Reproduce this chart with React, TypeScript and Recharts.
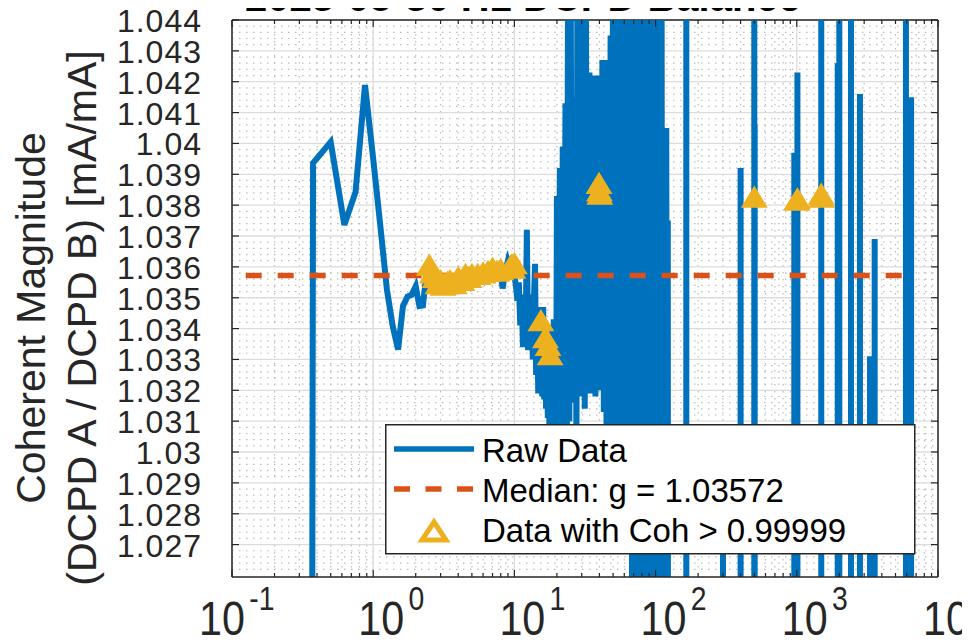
import React from "react";
import {
  ComposedChart,
  Line,
  Scatter,
  XAxis,
  YAxis,
  CartesianGrid,
  ReferenceLine,
  Legend,
} from "recharts";

// frequency [Hz], coherent magnitude ratio
const lowBand: [number, number][] = [
  [0.125, 0.6], [0.25, 0.6], [0.375, 1.03936], [0.5, 1.04005], [0.625, 1.03736],
  [0.75, 1.03843], [0.875, 1.04189], [1.0, 1.0395], [1.125, 1.0373], [1.25, 1.03527],
  [1.375, 1.03408], [1.5, 1.03332], [1.625, 1.03473], [1.75, 1.03504], [1.875, 1.0351],
  [2.0, 1.03537], [2.125, 1.03473], [2.25, 1.03475], [2.375, 1.0357], [2.5, 1.0359],
  [2.75, 1.0355], [3.0, 1.0353], [3.25, 1.0355], [3.5, 1.0356], [3.75, 1.0354],
  [4.0, 1.0356], [4.5, 1.0357], [5.0, 1.0358], [5.5, 1.0357], [6.0, 1.0358],
  [6.5, 1.0357], [7.0, 1.0359], [7.5, 1.0357], [8.0, 1.0358], [8.25, 1.0353],
  [8.5, 1.0357], [9.0, 1.0362], [9.5, 1.0359], [10.0, 1.0357],
];

const midBand: [number, number][] = [
  [10.25, 1.0354], [10.5, 1.0349], [10.75, 1.0355], [11.0, 1.0341], [11.25, 1.0351],
  [11.5, 1.0334], [11.75, 1.0346], [12.0, 1.0336], [12.25, 1.0372], [12.5, 1.0333],
  [12.75, 1.0348], [13.0, 1.0337], [13.25, 1.0351], [13.5, 1.033], [13.75, 1.0349],
  [14.0, 1.0361], [14.25, 1.0325], [14.5, 1.0346], [14.75, 1.0319], [15.0, 1.0347],
  [15.25, 1.0322], [15.5, 1.0343], [15.75, 1.0318], [16.0, 1.0347], [16.25, 1.0317],
  [16.5, 1.034], [16.75, 1.0314], [17.0, 1.0337], [17.25, 1.0311], [17.5, 1.0336],
  [17.75, 1.03], [18.0, 1.0336], [18.25, 1.029], [18.5, 1.0341], [18.75, 1.0302],
  [19.0, 1.0343], [19.25, 1.0285], [19.5, 1.0338], [19.75, 1.0305],
];

const denseBand: [number, number][] = [
  [20, 1.0383], [20.5, 1.0318], [21, 1.0392], [21.5, 1.0302], [22, 1.0399],
  [22.5, 1.0322], [23, 1.0413], [23.5, 1.0288], [24, 1.0462], [24.5, 1.031],
  [25, 1.047], [25.5, 1.0326], [26, 1.0415], [26.5, 1.0316], [27, 1.0414],
  [27.5, 1.0298], [28, 1.048], [28.5, 1.0323], [29, 1.047], [29.5, 1.0318],
  [30, 1.0475], [30.5, 1.0321], [31, 1.049], [31.5, 1.0314], [32, 1.049],
  [32.5, 1.0322], [33, 1.0423], [33.5, 1.032], [34, 1.0423], [34.5, 1.0319],
  [35, 1.0422], [35.5, 1.0325], [36, 1.0417], [36.5, 1.0322], [37, 1.0417],
  [37.5, 1.0318], [38, 1.0422], [38.5, 1.0325], [39, 1.0422], [39.5, 1.032],
  [40, 1.0422], [41, 1.0322], [42, 1.0427], [43, 1.0313], [44, 1.0427],
  [45, 1.03], [46, 1.0427], [47, 1.029], [48, 1.0435], [49, 1.0285],
  [50, 1.047], [51, 1.0288], [52, 1.048], [53, 1.0282], [54, 1.0475],
  [55, 1.0286], [56, 1.048], [57, 1.028], [58, 1.0475], [59, 1.0284],
  [60, 1.0428], [61, 1.027], [62, 1.0428], [63, 1.028], [64, 1.049],
  [65.5, 1.027], [67, 1.05], [68.5, 1.015], [70, 1.05], [71.5, 1.015],
  [73, 1.05], [74.5, 1.015], [76, 1.05], [78, 1.015], [80, 1.05],
  [82, 1.015], [84, 1.05], [86, 1.015], [88, 1.05], [90, 1.015],
  [92, 1.05], [94, 1.015], [96, 1.05], [98, 1.015], [100, 1.05],
  [102.5, 1.015], [105, 1.05], [107.5, 1.015], [110, 1.05], [112, 1.015],
  [114, 1.0405], [116, 1.015], [119, 1.0405], [121, 1.015], [122, 1.0375],
  [124, 0.95],
];

const spikeBand: [number, number][] = [
  [164.875, 0.95], [165, 1.07], [165.125, 0.95],
  [299.875, 0.95], [300, 1.0295], [300.125, 0.95],
  [399.875, 0.95], [400, 1.0392], [400.125, 0.95],
  [499.875, 0.95], [500, 1.07], [500.125, 0.95],
  [502.875, 0.95], [503, 1.0406], [503.125, 0.95],
  [959.875, 0.95], [960, 1.0397], [960.125, 0.95],
  [1009.875, 0.95], [1010, 1.0423], [1010.125, 0.95],
  [1489.875, 0.95], [1490, 1.07], [1490.125, 0.95],
  [1949.875, 0.95], [1950, 1.0426], [1950.125, 0.95],
  [1999.875, 0.95], [2000, 1.07], [2000.125, 0.95],
  [2419.875, 0.95], [2420, 1.07], [2420.125, 0.95],
  [2799.875, 0.95], [2800, 1.0416], [2800.125, 0.95],
  [3299.875, 0.95], [3300, 1.0331], [3300.125, 0.95],
  [3559.875, 0.95], [3560, 1.0369], [3560.125, 0.95],
  [5929.875, 0.95], [5930, 1.07], [5930.125, 0.95],
  [6449.875, 0.95], [6450, 1.0415], [6450.125, 0.95],
  [6600, 0.95],
];

// points with coherence > 0.99999
const cohPoints: [number, number][] = [
  [2.5, 1.036], [2.625, 1.03575], [2.75, 1.0356], [2.875, 1.0354], [3.0, 1.0355],
  [3.125, 1.03535], [3.25, 1.0354], [3.375, 1.03545], [3.5, 1.0355], [3.75, 1.0354],
  [4.0, 1.0356], [4.25, 1.0355], [4.5, 1.0357], [4.75, 1.0356], [5.0, 1.0357],
  [5.5, 1.0357], [6.0, 1.03575], [6.5, 1.0358], [7.0, 1.0359], [7.5, 1.0358],
  [8.0, 1.03585], [9.5, 1.036], [9.75, 1.0359], [10.0, 1.03605],
  [15.4, 1.0342], [16.6, 1.03365], [17.3, 1.0334], [17.9, 1.0331],
  [39.75, 1.03865], [40.0, 1.0384], [40.25, 1.0383],
  [500, 1.0382], [1000, 1.0381], [1010, 1.03815], [1490, 1.0383], [1500, 1.0382],
];

const medianFreq = [0.125, 6600];
const medianValue = 1.03572;

const xMajorTicks = [0.1, 1, 10, 100, 1000, 10000];
const yTicks = [
  1.027, 1.028, 1.029, 1.03, 1.031, 1.032, 1.033, 1.034, 1.035,
  1.036, 1.037, 1.038, 1.039, 1.04, 1.041, 1.042, 1.043, 1.044,
];

const rawData = [...lowBand, ...midBand, ...denseBand, ...spikeBand].map(([f, v]) => ({ f, v }));
const cohData = cohPoints.map(([f, v]) => ({ f, v }));
const medianData = medianFreq.map((f) => ({ f, v: medianValue }));

// minor grid positions (2..9 per decade, 0.0002 steps)
const xMinorTicks: number[] = [];
xMajorTicks.slice(0, -1).forEach((d) => {
  for (let k = 2; k <= 9; k++) xMinorTicks.push(Number((d * k).toPrecision(3)));
});
const yMinorTicks: number[] = [];
for (let i = 0; i <= 90; i++) {
  if (i % 5 !== 0) yMinorTicks.push(Number((1.026 + i * 0.0002).toFixed(4)));
}

const BLUE = "#0072BD";
const ORANGE = "#D95319";
const GOLD = "#EDB120";
const AXIS = "#262626";
const FONT = "'Liberation Sans', Arial, Helvetica, sans-serif";

const LEFT = 232;
const RIGHT = 938;
const TOP = 20;
const BOTTOM = 577;

const YTick = (props: any) => {
  const { y, payload } = props;
  return (
    <g>
      <line x1={LEFT} x2={LEFT + 7} y1={y} y2={y} stroke={AXIS} strokeWidth={1.2} />
      <line x1={RIGHT - 7} x2={RIGHT} y1={y} y2={y} stroke={AXIS} strokeWidth={1.2} />
      <text
        x={202}
        y={y}
        dy={12}
        textAnchor="end"
        fontSize={32}
        letterSpacing={1}
        fill={AXIS}
        fontFamily={FONT}
      >
        {String(payload.value)}
      </text>
    </g>
  );
};

const XTick = (props: any) => {
  const { x, payload } = props;
  const major = xMajorTicks.includes(payload.value);
  const len = major ? 7 : 4;
  const exp = Math.round(Math.log10(payload.value));
  const x0 = x - 15 - (exp < 0 ? 18 : 0);
  return (
    <g>
      <line x1={x} x2={x} y1={BOTTOM} y2={BOTTOM - len} stroke={AXIS} strokeWidth={1.2} />
      <line x1={x} x2={x} y1={TOP} y2={TOP + len} stroke={AXIS} strokeWidth={1.2} />
      {major && (
        <text
          transform={`translate(${x0},635) scale(0.86,1)`}
          x={0}
          y={0}
          fill={AXIS}
          fontFamily={FONT}
          fontSize={48}
        >
          <tspan>10</tspan>
          <tspan fontSize={33} dx={5} dy={-25}>
            {String(exp)}
          </tspan>
        </text>
      )}
    </g>
  );
};

const Triangle = (props: any) => {
  const { cx, cy } = props;
  if (cx == null || cy == null) return null;
  return (
    <path
      d={`M${cx},${cy - 8} L${cx + 8.5},${cy + 6} L${cx - 8.5},${cy + 6} Z`}
      fill={GOLD}
      stroke={GOLD}
      strokeWidth={5.6}
    />
  );
};

const LegendBox = () => (
  <svg width={531} height={131} style={{ display: "block" }}>
    <rect x={0.75} y={0.75} width={529} height={129} fill="#fff" stroke={AXIS} strokeWidth={1.5} />
    <line x1={9} x2={89} y1={25} y2={25} stroke={BLUE} strokeWidth={5.5} />
    <text x={97} y={38} fontSize={33} fontFamily={FONT} fill="#000">Raw Data</text>
    <line x1={9} x2={89} y1={65} y2={65} stroke={ORANGE} strokeWidth={5.5} strokeDasharray="16 15.5" />
    <text x={97} y={78} fontSize={33} fontFamily={FONT} fill="#000">Median: g = 1.03572</text>
    <path d="M49,98 L61,116 L37,116 Z" fill="none" stroke={GOLD} strokeWidth={5} />
    <text x={97} y={118} fontSize={33} fontFamily={FONT} fill="#000">Data with Coh &gt; 0.99999</text>
  </svg>
);

export default function App() {
  return (
    <div style={{ margin: -8, width: 970, height: 643, background: "#fff", overflow: "hidden" }}>
      <ComposedChart
        width={970}
        height={643}
        margin={{ top: TOP, right: 970 - RIGHT, bottom: 0, left: 0 }}
        style={{ fontFamily: FONT }}
      >
        <CartesianGrid
          horizontalValues={yMinorTicks}
          verticalValues={xMinorTicks}
          stroke="#bcbcbc"
          strokeWidth={1.2}
          strokeDasharray="1.5 5.5"
        />
        <CartesianGrid
          horizontalValues={yTicks}
          verticalValues={xMajorTicks}
          stroke="#dcdcdc"
          strokeWidth={1.3}
        />
        <XAxis
          dataKey="f"
          type="number"
          scale="log"
          domain={[0.1, 10000]}
          allowDataOverflow
          ticks={[...xMajorTicks, ...xMinorTicks]}
          interval={0}
          height={643 - BOTTOM}
          tickLine={false}
          axisLine={{ stroke: AXIS, strokeWidth: 1.5 }}
          tick={<XTick />}
        />
        <YAxis
          dataKey="v"
          type="number"
          domain={[1.02595, 1.044]}
          allowDataOverflow
          ticks={yTicks}
          interval={0}
          width={LEFT}
          tickLine={false}
          axisLine={{ stroke: AXIS, strokeWidth: 1.5 }}
          tick={<YTick />}
        />
        <ReferenceLine y={1.044} stroke={AXIS} strokeWidth={1.5} />
        <ReferenceLine x={10000} stroke={AXIS} strokeWidth={1.5} />
        <Line
          data={rawData}
          dataKey="v"
          stroke={BLUE}
          strokeWidth={6}
          dot={false}
          activeDot={false}
          isAnimationActive={false}
        />
        <Line
          data={medianData}
          dataKey="v"
          stroke={ORANGE}
          strokeWidth={5.5}
          strokeDasharray="16 16"
          dot={false}
          activeDot={false}
          isAnimationActive={false}
        />
        <Scatter data={cohData} dataKey="v" shape={<Triangle />} isAnimationActive={false} />
        <Legend
          layout="horizontal"
          verticalAlign="middle"
          align="center"
          wrapperStyle={{ position: "absolute", left: 385, top: 424, width: 531, height: 131 }}
          content={() => <LegendBox />}
        />
        <text x={245} y={11} fontSize={40} fontWeight="bold" fill="#000" fontFamily={FONT}>
          2023-05-30 H1 DCPD Balance
        </text>
        <text
          transform="translate(45,318) rotate(-90)"
          textAnchor="middle"
          fontSize={41}
          fill={AXIS}
          fontFamily={FONT}
        >
          Coherent Magnitude
        </text>
        <text
          transform="translate(96,318) rotate(-90)"
          textAnchor="middle"
          fontSize={41}
          fill={AXIS}
          fontFamily={FONT}
        >
          (DCPD A / DCPD B) [mA/mA]
        </text>
      </ComposedChart>
    </div>
  );
}
